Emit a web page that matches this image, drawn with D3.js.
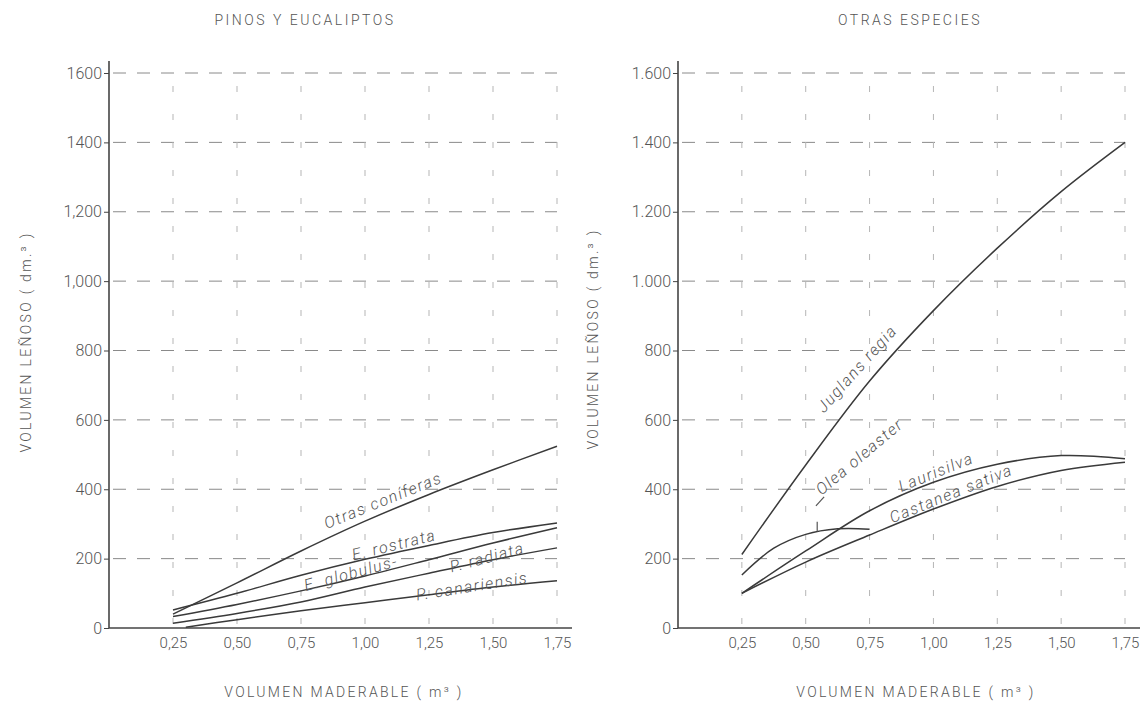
<!DOCTYPE html>
<html>
<head>
<meta charset="utf-8">
<script src="https://cdn.jsdelivr.net/npm/d3@7"></script>
<style>
  html, body { margin: 0; padding: 0; background: #fff; }
  svg text { font-family: Roboto, "DejaVu Sans", sans-serif; font-weight: 300; fill: #555; }
</style>
</head>
<body>
<svg id="chart" width="1140" height="703"></svg>
<script>
// ---------- data ----------
const xTicks = [0.25, 0.5, 0.75, 1.0, 1.25, 1.5, 1.75];
const xTickLabels = ["0,25", "0,50", "0,75", "1,00", "1,25", "1,50", "1,75"];
const yTicks = [0, 200, 400, 600, 800, 1000, 1200, 1400, 1600];
const yTickLabelsLeft = ["0", "200", "400", "600", "800", "1,000", "1,200", "1400", "1600"];
const yTickLabelsRight = ["0", "200", "400", "600", "800", "1.000", "1.200", "1.400", "1.600"];

const leftTitle = "PINOS  Y  EUCALIPTOS";
const rightTitle = "OTRAS  ESPECIES";
const yTitle = "VOLUMEN  LEÑOSO ( dm.³ )";
const xTitle = "VOLUMEN  MADERABLE ( m³ )";

// Pinos y eucaliptos
const leftX = [0.25, 0.5, 0.75, 1.0, 1.25, 1.5, 1.75];
const otrasConiferas = [40, 130, 222, 308, 385, 456, 524];
const eRostrata = [52, 100, 152, 198, 238, 275, 303];
const eGlobulus = [33, 68, 107, 150, 197, 245, 289];
const pRadiata = [14, 42, 75, 118, 158, 197, 231];
const pCanariensisX = [0.30, 0.5, 0.75, 1.0, 1.25, 1.5, 1.75];
const pCanariensis = [2, 24, 50, 73, 96, 118, 136];

// Otras especies
const rightX = [0.25, 0.5, 0.75, 1.0, 1.25, 1.5, 1.75];
const juglansRegia = [212, 470, 712, 915, 1095, 1258, 1400];
const oleaOleasterX = [0.25, 0.375, 0.5, 0.625, 0.75];
const oleaOleaster = [153, 230, 270, 286, 285];
const laurisilva = [100, 222, 338, 420, 472, 497, 488];
const castaneaSativa = [100, 190, 268, 343, 408, 454, 478];

// label anchors in data units [x, y, angle]
const leftLabels = [
  { text: "Otras coníferas", at: [1.070, 368], rot: -22 },
  { text: "E. rostrata", at: [1.113, 240], rot: -14 },
  { text: "E. globulus-", at: [0.945, 158], rot: -15 },
  { text: "P. radiata", at: [1.477, 204], rot: -15 },
  { text: "P. canariensis", at: [1.418, 121], rot: -9 }
];
const rightLabels = [
  { text: "Juglans regia", at: [0.700, 748], rot: -48 },
  { text: "Olea oleaster", at: [0.710, 494], rot: -40 },
  { text: "Laurisilva", at: [1.010, 450], rot: -22 },
  { text: "Castanea sativa", at: [1.069, 388], rot: -22 }
];

// ---------- drawing ----------
const svg = d3.select("#chart");
svg.append("rect").attr("width", 1140).attr("height", 703).attr("fill", "#fff");

function panel(cfg) {
  const x = d3.scaleLinear().domain([0, 1.75]).range([cfg.x0, cfg.x1]);
  const y = d3.scaleLinear().domain([0, 1600]).range([628, 73]);
  const g = svg.append("g");

  // grid
  g.append("g").selectAll("line").data(yTicks.slice(1)).join("line")
    .attr("x1", x(0) + 4).attr("x2", x(1.75))
    .attr("y1", d => y(d)).attr("y2", d => y(d))
    .attr("stroke", "#8a8a8a").attr("stroke-width", 1)
    .attr("stroke-dasharray", "13,11");
  g.append("g").selectAll("line").data(xTicks).join("line")
    .attr("x1", d => x(d)).attr("x2", d => x(d))
    .attr("y1", y(0) - 4).attr("y2", y(1600))
    .attr("stroke", "#b5b5b5").attr("stroke-width", 1)
    .attr("stroke-dasharray", "6,22");

  // axes lines
  g.append("line").attr("x1", x(0)).attr("x2", x(0))
    .attr("y1", y(0)).attr("y2", y(1600) - 12)
    .attr("stroke", "#444").attr("stroke-width", 1.6);
  g.append("line").attr("x1", x(0)).attr("x2", x(1.75) + 15)
    .attr("y1", y(0)).attr("y2", y(0))
    .attr("stroke", "#444").attr("stroke-width", 1.6);

  // y axis ticks + labels
  const ya = d3.axisLeft(y).tickValues(yTicks)
    .tickFormat((d, i) => cfg.yLabels[i]).tickSize(5).tickPadding(2);
  const yg = g.append("g").attr("transform", `translate(${x(0)},0)`).call(ya);
  yg.select(".domain").remove();
  yg.selectAll(".tick line").attr("stroke", "#444");
  yg.selectAll(".tick text").style("font-size", "16px").attr("fill", "#555");

  // x axis labels
  const xa = d3.axisBottom(x).tickValues(xTicks)
    .tickFormat((d, i) => xTickLabels[i]).tickSize(0).tickPadding(9);
  const xg = g.append("g").attr("transform", `translate(0,${y(0)})`).call(xa);
  xg.select(".domain").remove();
  xg.selectAll(".tick text").style("font-size", "15px").attr("fill", "#555");

  // curves
  const line = d3.line().x(d => x(d[0])).y(d => y(d[1]))
    .curve(d3.curveCatmullRom.alpha(0.5));
  cfg.series.forEach(s => {
    g.append("path").datum(d3.zip(s.x, s.y))
      .attr("d", line).attr("fill", "none")
      .attr("stroke", "#3a3a3a").attr("stroke-width", 1.5);
  });

  // curve labels
  cfg.labels.forEach(l => {
    g.append("text")
      .attr("transform", `translate(${x(l.at[0])},${y(l.at[1])}) rotate(${l.rot})`)
      .attr("text-anchor", "middle").attr("dy", "0.35em")
      .style("font-size", "16px").style("font-style", "italic")
      .style("letter-spacing", "1.5px")
      .text(l.text);
  });

  (cfg.marks || []).forEach(m => {
    g.append("line")
      .attr("x1", x(m[0][0])).attr("y1", y(m[0][1]))
      .attr("x2", x(m[1][0])).attr("y2", y(m[1][1]))
      .attr("stroke", "#555").attr("stroke-width", 1.2);
  });

  // titles
  g.append("text").attr("x", cfg.titleX).attr("y", 25)
    .attr("text-anchor", "middle").style("font-size", "14px")
    .style("letter-spacing", "2.5px").text(cfg.title);
  g.append("text")
    .attr("transform", `translate(${cfg.yTitleX},${cfg.yTitleY}) rotate(-90)`)
    .attr("text-anchor", "middle").attr("dy", "0.35em")
    .style("font-size", "14px").style("letter-spacing", "2.3px")
    .text(yTitle);
  g.append("text").attr("x", cfg.xTitleX).attr("y", 697)
    .attr("text-anchor", "middle").style("font-size", "14px")
    .style("letter-spacing", "2.3px").text(xTitle);
}

panel({
  x0: 109, x1: 557, yLabels: yTickLabelsLeft,
  title: leftTitle, titleX: 305, yTitleX: 26, yTitleY: 342, xTitleX: 344,
  series: [
    { x: leftX, y: otrasConiferas },
    { x: leftX, y: eRostrata },
    { x: leftX, y: eGlobulus },
    { x: leftX, y: pRadiata },
    { x: pCanariensisX, y: pCanariensis }
  ],
  labels: leftLabels
});

panel({
  x0: 678, x1: 1125, yLabels: yTickLabelsRight,
  title: rightTitle, titleX: 910, yTitleX: 593, yTitleY: 339, xTitleX: 916,
  series: [
    { x: rightX, y: juglansRegia },
    { x: oleaOleasterX, y: oleaOleaster },
    { x: rightX, y: laurisilva },
    { x: rightX, y: castaneaSativa }
  ],
  labels: rightLabels,
  marks: [
    [[0.545, 278], [0.545, 306]],
    [[0.540, 352], [0.572, 378]]
  ]
});
</script>
</body>
</html>
